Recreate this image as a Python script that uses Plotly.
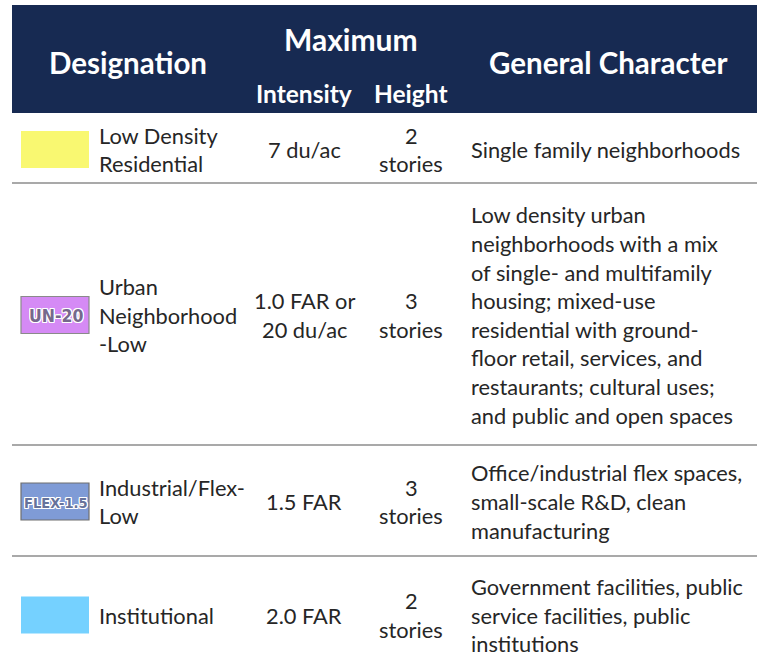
import plotly.graph_objects as go

# ---- data ----
designations = ["Low Density\nResidential", "Urban\nNeighborhood\n-Low", "Industrial/Flex-\nLow", "Institutional"]
intensity = ["7 du/ac", "1.0 FAR or\n20 du/ac", "1.5 FAR", "2.0 FAR"]
height = ["2\nstories", "3\nstories", "3\nstories", "2\nstories"]
character = [
    "Single family neighborhoods",
    "Low density urban\nneighborhoods with a mix\nof single- and multifamily\nhousing; mixed-use\nresidential with ground-\nfloor retail, services, and\nrestaurants; cultural uses;\nand public and open spaces",
    "Office/industrial flex spaces,\nsmall-scale R&D, clean\nmanufacturing",
    "Government facilities, public\nservice facilities, public\ninstitutions",
]
swatch_colors = ["#F9F871", "#D58AF5", "#7F9BD6", "#75D1FF"]
swatch_labels = ["", "UN-20", "FLEX-1.5", ""]
swatch_label_colors = ["", "#76688C", "#66729A", ""]
swatch_label_sizes = [0, 17.5, 14.5, 0]
swatch_borders = [None, "#8a8a8a", "#6f6f6f", None]
header_cols = ["Designation", "Maximum", "Intensity", "Height", "General Character"]

# ---- layout constants (page pixel coordinates) ----
PAGE_W, PAGE_H = 764, 669
LEFT, RIGHT = 12, 757
HEAD_TOP, HEAD_BOT = 5, 113
row_bounds = [113, 183, 445, 556, 669]
LINE = 28.6
FONT = "Lato"
FS = 21.8
NAVY = "#172A52"
TXT = "#262626"

fig = go.Figure()
shapes = []
ann = []

shapes.append(dict(type="rect", x0=LEFT, x1=RIGHT, y0=HEAD_TOP, y1=HEAD_BOT,
                   fillcolor=NAVY, line=dict(width=0), layer="below"))

def hdr(text, x, y, size):
    ann.append(dict(x=x, y=y, text="<b>%s</b>" % text, showarrow=False,
                    xanchor="center", yanchor="middle",
                    font=dict(family=FONT, size=size, color="white")))

hdr(header_cols[0], 128, 62, 29.5)
hdr(header_cols[1], 351, 39, 30)
hdr(header_cols[2], 304, 93, 24.5)
hdr(header_cols[3], 411, 93, 24.5)
hdr(header_cols[4], 608, 62, 29.5)

def lines(text, x, yc, anchor):
    parts = text.split("\n")
    n = len(parts)
    for i, p in enumerate(parts):
        y = yc + (i - (n - 1) / 2) * LINE
        ann.append(dict(x=x, y=y, text=p, showarrow=False, xanchor=anchor,
                        yanchor="middle", font=dict(family=FONT, size=FS, color=TXT)))

for i in range(len(designations)):
    top, bot = row_bounds[i], row_bounds[i + 1]
    yc = (top + bot) / 2 + 1
    if i > 0:
        shapes.append(dict(type="line", x0=LEFT, x1=RIGHT, y0=top, y1=top,
                           line=dict(color="#8c8c8c", width=1.5)))
    if i == 0:
        yc = 149.5
    if i == 3:
        yc = 615
    sw_line = dict(width=0) if swatch_borders[i] is None else dict(color=swatch_borders[i], width=1.2)
    shapes.append(dict(type="rect", x0=21, x1=89, y0=yc - 18.5, y1=yc + 18.5,
                       fillcolor=swatch_colors[i], line=sw_line))
    if swatch_labels[i]:
        ann.append(dict(x=55.5, y=yc + 1, text="<b>%s</b>" % swatch_labels[i], showarrow=False,
                        xanchor="center", yanchor="middle",
                        font=dict(family="DejaVu Sans Condensed, Liberation Sans Narrow",
                                  size=swatch_label_sizes[i], color=swatch_label_colors[i],
                                  shadow="1px 1px 0 #fff, -1px -1px 0 #fff, 1px -1px 0 #fff, -1px 1px 0 #fff, 0 1px 0 #fff, 0 -1px 0 #fff, 1px 0 0 #fff, -1px 0 0 #fff")))
    lines(designations[i], 97, yc, "left")
    lines(intensity[i], 304, yc, "center")
    lines(height[i], 411, yc, "center")
    lines(character[i], 469, yc, "left")

fig.update_layout(
    width=PAGE_W, height=PAGE_H, margin=dict(l=0, r=0, t=0, b=0),
    paper_bgcolor="white", plot_bgcolor="white",
    xaxis=dict(range=[0, PAGE_W], visible=False, fixedrange=True),
    yaxis=dict(range=[PAGE_H, 0], visible=False, fixedrange=True),
    shapes=shapes, annotations=ann, showlegend=False,
)
fig.write_html("out.html", config={"displayModeBar": False},
               post_script="document.body.style.margin='0';document.body.style.overflow='hidden';")
